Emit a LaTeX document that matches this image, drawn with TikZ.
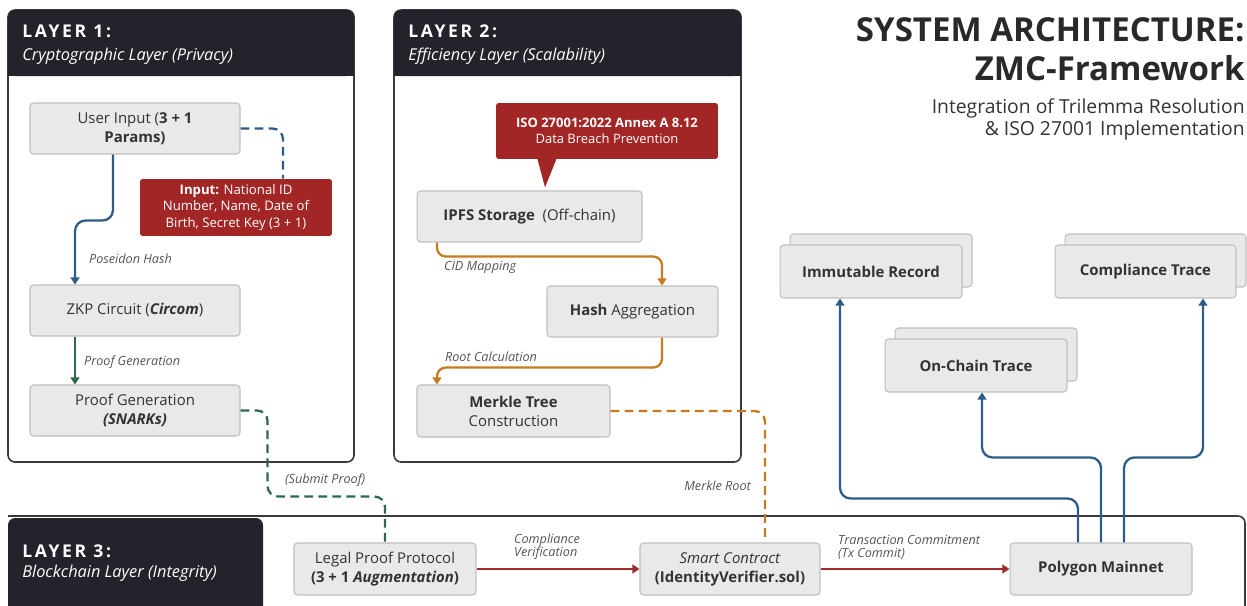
\documentclass[tikz,border=0pt]{standalone}
\usepackage{fontspec}
\setmainfont{Open Sans}
\newfontfamily\layerfont[LetterSpace=15]{Open Sans}
\usetikzlibrary{arrows.meta,shadows}
\definecolor{headbg}{HTML}{23242B}
\definecolor{panelline}{HTML}{3A3A3A}
\definecolor{boxfill}{HTML}{E9E9E9}
\definecolor{boxline}{HTML}{BFBFBF}
\definecolor{boxtext}{HTML}{333333}
\definecolor{labeltext}{HTML}{555555}
\definecolor{alert}{HTML}{A32626}
\definecolor{flowblue}{HTML}{2F5C86}
\definecolor{flowgreen}{HTML}{2E6A4A}
\definecolor{floworange}{HTML}{C77A1F}
\definecolor{flowred}{HTML}{9E2E2E}

\tikzset{
  stepbox/.style={draw=boxline, fill=boxfill, rounded corners=2pt, line width=.6pt, align=center, text=boxtext,
    font=\fontsize{8.5}{10.8}\selectfont, minimum height=1.02cm, inner sep=2pt},
  stackbox/.style={stepbox, font=\fontsize{8.5}{10.8}\selectfont\bfseries,
    copy shadow={shadow xshift=.2cm, shadow yshift=.22cm, fill=boxfill, draw=boxline}},
  alertbox/.style={fill=alert, text=white, align=center, rounded corners=1.5pt, inner sep=2pt},
  flowlabel/.style={font=\fontsize{7.2}{7.4}\selectfont\itshape, text=labeltext, align=left, inner sep=1pt},
  flow/.style={line width=1.3pt, rounded corners=6pt, -{Triangle[length=4pt,width=5pt]}},
  link/.style={line width=1.3pt, rounded corners=6pt, dash pattern=on 5pt off 3pt},
  layertitle/.style={anchor=west, text=white, inner sep=0pt, font=\fontsize{10}{12}\layerfont\bfseries},
  layersub/.style={anchor=west, text=white, inner sep=0pt, font=\fontsize{9.3}{11}\selectfont\itshape},
}

\begin{document}
\begin{tikzpicture}[x=.02cm, y=-.02cm]
  \useasboundingbox (0,0) rectangle (1247,605);
  \foreach \xa/\xb/\num/\sub in {8/354/1/Cryptographic Layer (Privacy), 394/741/2/Efficiency Layer (Scalability)} {
    \draw[fill=white, draw=panelline, line width=.9pt, rounded corners=4pt] (\xa,10) rectangle (\xb,462);
    \fill[headbg, rounded corners=4pt] (\xa,10) rectangle (\xb,76);
    \fill[headbg] (\xa,40) rectangle (\xb,76);
    \node[layertitle] (layer\num) at (\xa+14,31) {LAYER \num:};
    \node[layersub] (layer\num sub) at (\xa+14,56.5) {\sub};
  }
  \draw[panelline, line width=.9pt, rounded corners=4pt] (8,516) -- (1245,516) -- (1245,615);
  \fill[headbg, rounded corners=4pt] (8,615) -- (8,518) -- (263,518) -- (263,615);
  \node[layertitle] (layer3) at (22,551) {LAYER 3:};
  \node[layersub] (layer3sub) at (22,573) {Blockchain Layer (Integrity)};

  \node[anchor=north east, align=right, text=boxtext!80!black, inner sep=0pt,
    font=\fontsize{18.8}{22.5}\selectfont\bfseries] (title) at (1245,17) {SYSTEM ARCHITECTURE:\\ZMC-Framework};
  \node[anchor=north east, align=right, text=boxtext, inner sep=0pt,
    font=\fontsize{11}{13}\selectfont] (subtitle) at (1245,98) {Integration of Trilemma Resolution\\\& ISO 27001 Implementation};

  \node[stepbox, minimum width=4.2cm] (input) at (135,128.5) {User Input (\textbf{3 + 1}\\\textbf{Params)}};
  \node[alertbox, minimum width=3.84cm, minimum height=1.14cm, font=\fontsize{7.5}{9.6}\selectfont] (idnote) at (236,207.5)
    {\textbf{Input:} National ID\\Number, Name, Date of\\Birth, Secret Key (3 + 1)};
  \node[stepbox, minimum width=4.2cm] (zkp) at (135,310.5) {ZKP Circuit (\textbf{\textit{Circom}})};
  \node[stepbox, minimum width=4.2cm] (proof) at (135,410.5) {Proof Generation\\\textbf{\textit{(SNARKs)}}};

  \node[alertbox, minimum width=4.44cm, minimum height=1.12cm, font=\fontsize{7.4}{9}\selectfont] (iso) at (607,131)
    {\textbf{ISO 27001:2022 Annex A 8.12}\\Data Breach Prevention};
  \fill[alert] ([xshift=-1.4cm,yshift=1pt]iso.south) -- ([xshift=-1.24cm,yshift=-.56cm]iso.south) -- ([xshift=-1cm,yshift=1pt]iso.south) -- cycle;
  \node[stepbox, minimum width=4.5cm] (ipfs) at (529.5,216.5) {\textbf{IPFS Storage}\ \ (Off-chain)};
  \node[stepbox, minimum width=3.42cm] (hashagg) at (632.5,311.5) {\textbf{Hash} Aggregation};
  \node[stepbox, minimum width=3.86cm, minimum height=1.04cm] (merkle) at (513.5,411) {\textbf{Merkle Tree}\\Construction};

  \node[stepbox, minimum width=3.64cm, minimum height=1.04cm] (legal) at (385,569) {Legal Proof Protocol\\\textbf{(3 + 1 \textit{Augmentation})}};
  \node[stepbox, minimum width=3.6cm, minimum height=1.04cm] (smart) at (730,569) {\textit{Smart Contract}\\\textbf{(IdentityVerifier.sol)}};
  \node[stepbox, minimum width=3.64cm, minimum height=1.04cm, font=\fontsize{8.5}{10.8}\selectfont\bfseries] (polygon) at (1101,569) {Polygon Mainnet};

  \node[stackbox, minimum width=3.64cm, minimum height=1.06cm] (immutable) at (871,271.5) {Immutable Record};
  \node[stackbox, minimum width=3.64cm, minimum height=1.06cm] (onchain) at (976,365.5) {On-Chain Trace};
  \node[stackbox, minimum width=3.62cm, minimum height=1.06cm] (compliance) at (1145.5,271.5) {Compliance Trace};

  \draw[flow, flowblue] ([xshift=-.44cm]input.south) -- ++(0,66) -| ([xshift=-1.2cm]zkp.north);
  \draw[link, flowblue] (input.east) -| ([xshift=.94cm]idnote.north);
  \draw[flow, flowgreen] ([xshift=-1.2cm]zkp.south) -- ([xshift=-1.2cm]proof.north);
  \draw[link, flowgreen] (proof.east) -| ++(27,86) -| (legal.north);
  \draw[flow, floworange, rounded corners=5pt] ([xshift=-1.85cm]ipfs.south) -- ++(0,14) -| ([xshift=.59cm]hashagg.north);
  \draw[flow, floworange, rounded corners=5pt] ([xshift=.59cm]hashagg.south) -- ++(0,30) -| ([xshift=-1.53cm]merkle.north);
  \draw[link, floworange] (merkle.east) -| ([xshift=.7cm]smart.north);
  \draw[flow, flowred] (legal) -- (smart);
  \draw[flow, flowred] (smart) -- (polygon);
  \draw[flow, flowblue] ([xshift=-.46cm]polygon.north) -- ++(0,-44) -| ([xshift=-.62cm]immutable.south);
  \draw[flow, flowblue] (polygon.north) -- ++(0,-85) -| ([xshift=.12cm]onchain.south);
  \draw[flow, flowblue] ([xshift=.46cm]polygon.north) -- ++(0,-85) -| ([xshift=1.15cm]compliance.south);

  \node[flowlabel, anchor=west] (poseidon) at (87,259) {Poseidon Hash};
  \node[flowlabel, anchor=west] (provelbl) at (82,362) {Proof Generation};
  \node[flowlabel, anchor=west] (submit) at (283,480) {(Submit Proof)};
  \node[flowlabel, anchor=west] (cid) at (442,267) {CID Mapping};
  \node[flowlabel, anchor=west] (rootcalc) at (443,357) {Root Calculation};
  \node[flowlabel, anchor=east] (merkleroot) at (753,486) {Merkle Root};
  \node[flowlabel, anchor=west] (compverif) at (512,547) {Compliance\\Verification};
  \node[flowlabel, anchor=west] (txcommit) at (836,547) {Transaction Commitment\\(Tx Commit)};
\end{tikzpicture}
\end{document}
